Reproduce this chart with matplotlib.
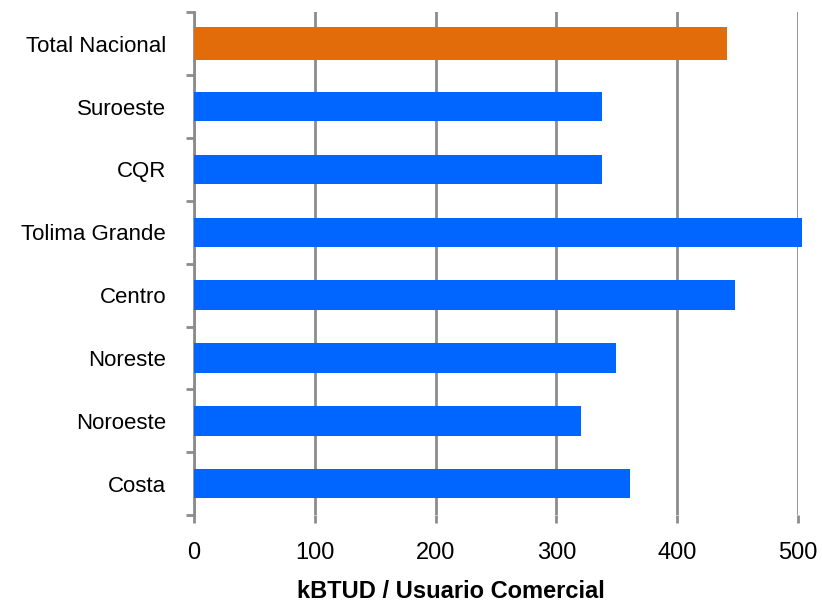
import matplotlib
matplotlib.use("Agg")
import matplotlib.pyplot as plt
from matplotlib import font_manager as fm
import numpy as np

categories = ["Costa", "Noroeste", "Noreste", "Centro", "Tolima Grande", "CQR", "Suroeste", "Total Nacional"]
values = [361, 320, 349, 448, 503, 338, 338, 441]
bar_colors = ["#0066FF"] * 7 + ["#E36C0A"]
xticks = [0, 100, 200, 300, 400, 500]
xlabel = "kBTUD / Usuario Comercial"

names = {f.name for f in fm.fontManager.ttflist}
fam = ["Liberation Sans Narrow", "Liberation Sans", "DejaVu Sans"]
fam = [f for f in fam if f in names] or ["DejaVu Sans"]
plt.rcParams["font.family"] = fam

fig = plt.figure(figsize=(8.22, 6.14), dpi=100)
ax = fig.add_axes([0.236, 0.161, 0.735, 0.819])

y = np.arange(len(categories))
heights = [0.47] * 7 + [0.52]
bars = ax.barh(y, values, height=heights, color=bar_colors, zorder=3)
for b in bars:
    b.set_clip_on(False)

ax.set_xlim(0, 500)
ax.set_ylim(-0.5, len(categories) - 0.5)
ax.set_xticks(xticks)
ax.set_xticklabels([str(t) for t in xticks], fontsize=17)
ax.set_yticks(y)
ax.set_yticklabels(categories, fontsize=16)
ax.set_yticks(np.arange(-0.5, len(categories), 1), minor=True)

ax.grid(axis="x", color="#8C8C8C", linewidth=2, zorder=1)
ax.set_axisbelow(True)
for s in ["top", "right", "bottom"]:
    ax.spines[s].set_visible(False)
ax.spines["left"].set_color("#8C8C8C")
ax.spines["left"].set_linewidth(2)

ax.tick_params(axis="y", which="major", length=0, pad=20)
ax.tick_params(axis="y", which="minor", length=6, width=2, color="#8C8C8C")
ax.tick_params(axis="x", which="major", length=6, width=2, color="#8C8C8C", pad=13)

ax.set_xlabel(xlabel, fontsize=17, fontweight="bold", labelpad=12, x=0.425)

fig.savefig("out.png", dpi=100)
